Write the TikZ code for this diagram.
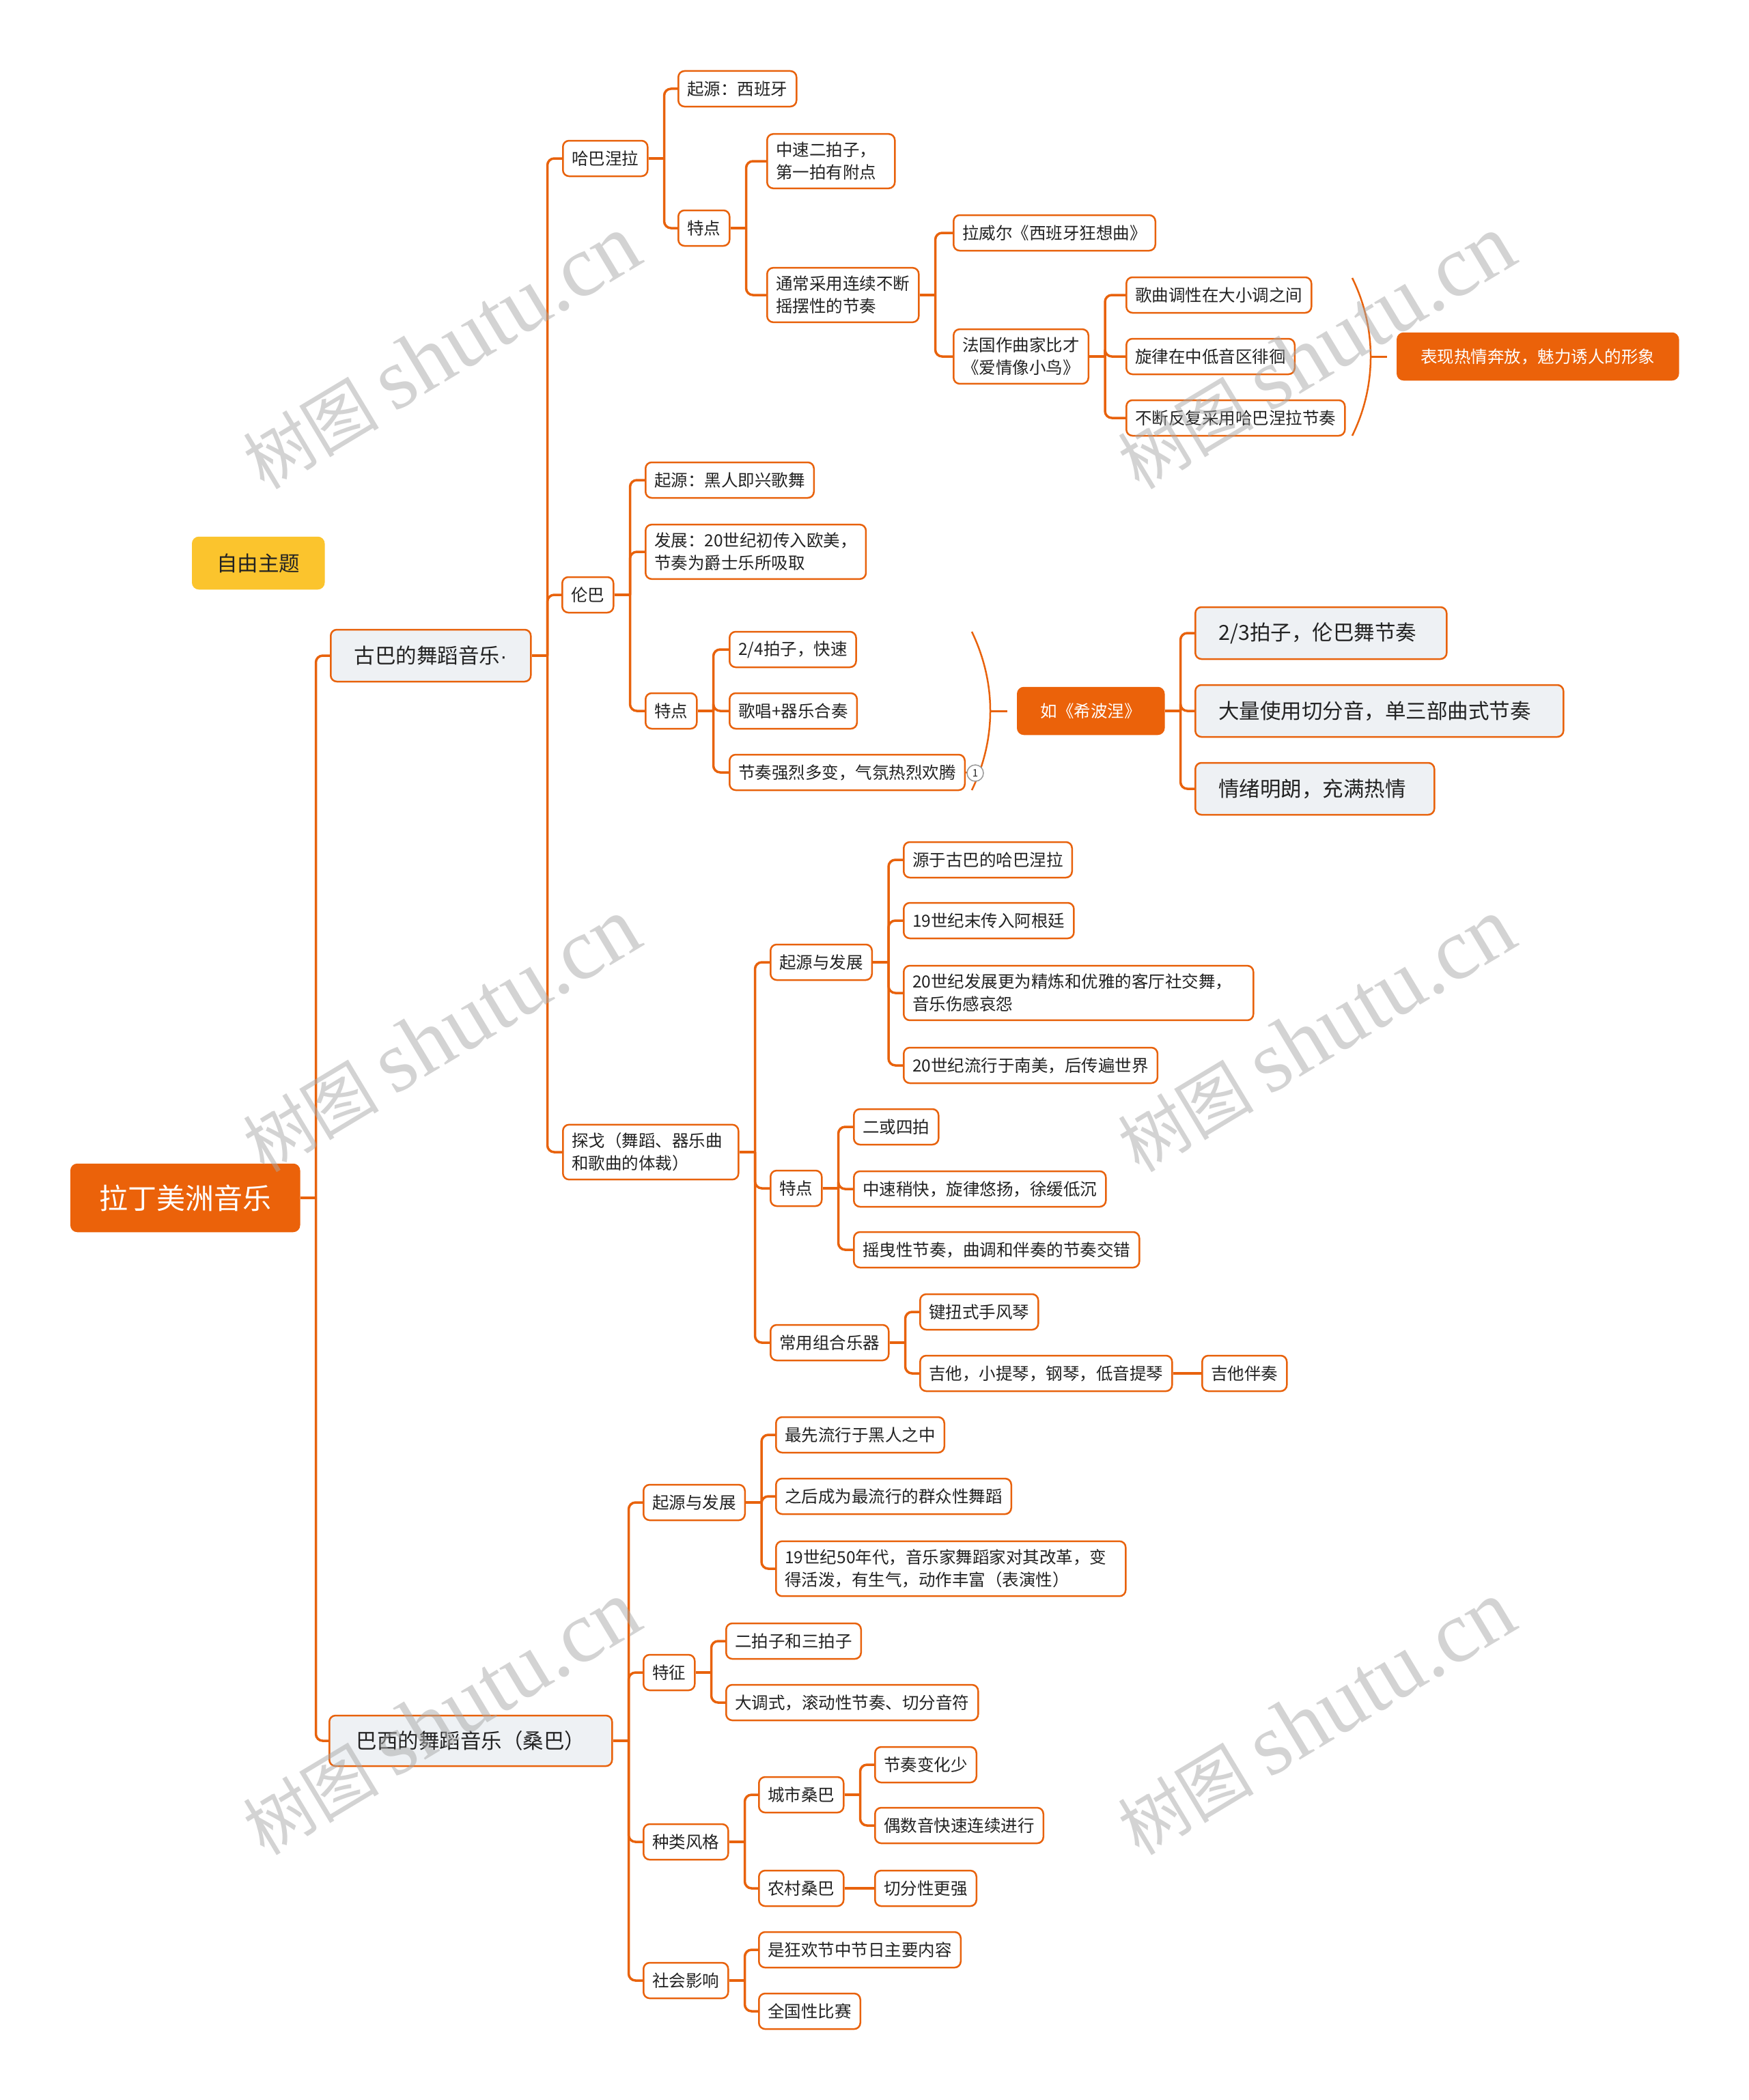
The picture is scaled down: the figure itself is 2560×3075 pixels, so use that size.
\documentclass[tikz,border=0pt]{standalone}
\usepackage{fontspec}
\setmainfont{Noto Sans CJK SC}
\newfontfamily\wmlatin{Liberation Serif}
\newfontfamily\latsans{Liberation Sans}
\usetikzlibrary{calc}
\definecolor{ora}{HTML}{E8620C}
\definecolor{orafill}{HTML}{EB620A}
\definecolor{grayfill}{HTML}{EEF1F4}
\definecolor{yel}{HTML}{FBC42D}
\definecolor{txt}{HTML}{222222}
\definecolor{wmgray}{HTML}{A8A8A8}
\newcommand\fsm{\fontsize{24.5pt}{33pt}\selectfont}
\newcommand\fmd{\fontsize{30.5pt}{38pt}\selectfont}
\newcommand\fbig{\fontsize{42pt}{50pt}\selectfont}
\newcommand\kids[2]{%
  \draw[conn,rounded corners=0pt] (#1.east) -- ++(23,0) coordinate (#1j);
  \foreach \c in {#2} {\draw[conn] (#1j) |- (\c.west);}
}
\tikzset{
  box/.style={draw=ora, line width=2.5pt, rounded corners=9pt, fill=white,
    inner xsep=13pt, inner ysep=12pt, minimum height=52pt, font=\fsm,
    text=txt, align=left, anchor=west},
  gbox/.style={box, fill=grayfill, font=\fmd, inner xsep=34pt, minimum height=76pt},
  obox/.style={box, fill=orafill, draw=orafill, text=white, align=center},
  conn/.style={draw=ora, line width=3.5pt, rounded corners=10pt},
  brace/.style={draw=ora, line width=2.5pt},
  markc/.style={circle, draw=gray!80, line width=1.5pt, fill=white, inner sep=0pt, minimum size=24pt, font=\fontsize{15pt}{15pt}\selectfont, text=txt},
  wm/.style={text=wmgray, opacity=0.5, font=\fontsize{100pt}{120pt}\selectfont, rotate=31, inner sep=0pt},
}
\begin{document}
\begin{tikzpicture}[x=1pt,y=-1pt]
\useasboundingbox (0,0) rectangle (2560,3075);
\fill[white] (0,0) rectangle (2560,3075);

% root and free topic
\node[obox, font=\fbig, minimum width=334pt, minimum height=98pt] (root) at (103,1754) {拉丁美洲音乐};
\node[box, draw=yel, fill=yel, font=\fmd, text=txt, minimum width=192pt, minimum height=75pt, align=center] (free) at (281,824.5) {自由主题};

% main branches
\node[gbox, minimum width=293pt] (cuba) at (483,960) {古巴的舞蹈音乐{\latsans ·}};
\node[gbox, minimum width=414pt, minimum height=74pt] (brazil) at (481,2549) {巴西的舞蹈音乐（桑巴）};

% Cuba level
\node[box] (haba) at (823,232) {哈巴涅拉};
\node[box] (rumba) at (822,871) {伦巴};
\node[box, text width=231pt] (tango) at (823,1687) {探戈（舞蹈、器乐曲\\和歌曲的体裁）};

% Habanera
\node[box] (h1) at (992,130) {起源：西班牙};
\node[box] (h2) at (992,334) {特点};
\node[box, text width=161pt] (h21) at (1122,236) {中速二拍子，\\第一拍有附点};
\node[box] (h22) at (1122,432) {通常采用连续不断\\摇摆性的节奏};
\node[box] (h221) at (1395,341) {拉威尔《西班牙狂想曲》};
\node[box, align=center] (h222) at (1395,522) {法国作曲家比才\\《爱情像小鸟》};
\node[box] (h2221) at (1648,432) {歌曲调性在大小调之间};
\node[box] (h2222) at (1648,522) {旋律在中低音区徘徊};
\node[box] (h2223) at (1648,612) {不断反复采用哈巴涅拉节奏};
\node[obox, minimum width=411pt, minimum height=68pt] (hsum) at (2045,522) {表现热情奔放，魅力诱人的形象};

% Rumba
\node[box] (r1) at (944,703) {起源：黑人即兴歌舞};
\node[box] (r2) at (944,808) {发展：20世纪初传入欧美，\\节奏为爵士乐所吸取};
\node[box] (r3) at (944,1041) {特点};
\node[box] (r31) at (1067,951) {2/4拍子，快速};
\node[box] (r32) at (1067,1041) {歌唱+器乐合奏};
\node[box] (r33) at (1067,1131) {节奏强烈多变，气氛热烈欢腾};
\coordinate (mark1) at (1428,1132);
\node[obox, minimum width=214pt, minimum height=68pt] (rsum) at (1489,1041) {如《希波涅》};
\node[gbox, text width=300pt] (rs1) at (1749,927) {2/3拍子，伦巴舞节奏};
\node[gbox, text width=471pt] (rs2) at (1749,1041) {大量使用切分音，单三部曲式节奏};
\node[gbox, text width=282pt] (rs3) at (1749,1155) {情绪明朗，充满热情};

% Tango
\node[box] (t1) at (1127,1409) {起源与发展};
\node[box] (t2) at (1127,1740) {特点};
\node[box] (t3) at (1127,1966) {常用组合乐器};
\node[box] (t11) at (1322,1259) {源于古巴的哈巴涅拉};
\node[box] (t12) at (1322,1348) {19世纪末传入阿根廷};
\node[box, text width=486pt] (t13) at (1322,1454) {20世纪发展更为精炼和优雅的客厅社交舞，\\音乐伤感哀怨};
\node[box] (t14) at (1322,1560) {20世纪流行于南美，后传遍世界};
\node[box] (t21) at (1249,1650) {二或四拍};
\node[box] (t22) at (1249,1741) {中速稍快，旋律悠扬，徐缓低沉};
\node[box] (t23) at (1249,1830) {摇曳性节奏，曲调和伴奏的节奏交错};
\node[box] (t31) at (1346,1921) {键扭式手风琴};
\node[box] (t32) at (1346,2011) {吉他，小提琴，钢琴，低音提琴};
\node[box] (t321) at (1759,2011) {吉他伴奏};

% Brazil
\node[box] (b1) at (941,2200) {起源与发展};
\node[box] (b2) at (941,2449) {特征};
\node[box] (b3) at (941,2697) {种类风格};
\node[box] (b4) at (941,2900) {社会影响};
\node[box] (b11) at (1135,2101) {最先流行于黑人之中};
\node[box] (b12) at (1135,2191) {之后成为最流行的群众性舞蹈};
\node[box, text width=486pt] (b13) at (1135,2297) {19世纪50年代，音乐家舞蹈家对其改革，变\\得活泼，有生气，动作丰富（表演性）};
\node[box] (b21) at (1062,2403) {二拍子和三拍子};
\node[box] (b22) at (1062,2493) {大调式，滚动性节奏、切分音符};
\node[box] (b31) at (1110,2628) {城市桑巴};
\node[box] (b32) at (1110,2765) {农村桑巴};
\node[box] (b311) at (1280,2584) {节奏变化少};
\node[box] (b312) at (1280,2673) {偶数音快速连续进行};
\node[box] (b321) at (1280,2765) {切分性更强};
\node[box] (b41) at (1110,2855) {是狂欢节中节日主要内容};
\node[box] (b42) at (1110,2945) {全国性比赛};

% connectors
\kids{root}{cuba,brazil}
\kids{cuba}{haba,rumba,tango}
\kids{haba}{h1,h2}
\kids{h2}{h21,h22}
\kids{h22}{h221,h222}
\kids{h222}{h2221,h2222,h2223}
\kids{rumba}{r1,r2,r3}
\kids{r3}{r31,r32,r33}
\kids{rsum}{rs1,rs2,rs3}
\kids{tango}{t1,t2,t3}
\kids{t1}{t11,t12,t13,t14}
\kids{t2}{t21,t22,t23}
\kids{t3}{t31,t32}
\kids{brazil}{b1,b2,b3,b4}
\kids{b1}{b11,b12,b13}
\kids{b2}{b21,b22}
\kids{b3}{b31,b32}
\kids{b31}{b311,b312}
\kids{b4}{b41,b42}
\draw[conn] (t32.east) -- (t321.west);
\draw[conn] (b32.east) -- (b321.west);

% summary braces
\coordinate (hbtop) at (1980,407);
\coordinate (hbbot) at (1980,638);
\coordinate (hbtip) at (2007,522);
\draw[brace] (hbtop) .. controls (2016,480) and (2016,565) .. (hbbot);
\draw[conn, line width=3pt] (hbtip) -- ([xshift=-14pt]hsum.west);

\coordinate (rbtop) at (1423,925);
\coordinate (rbbot) at (1423,1157);
\coordinate (rbtip) at (1450,1041);
\draw[brace] (rbtop) .. controls (1459,1000) and (1459,1082) .. (rbbot);
\draw[conn, line width=3pt] (rbtip) -- ([xshift=-14pt]rsum.west);
\draw[conn, line width=2.5pt] (r33.east) -- (mark1);
\node[markc] (mk) at (mark1) {1};

% watermarks
\foreach \wx in {646,1927} {
  \foreach \wy in {516,1516,2516} {
    \node[wm] at (\wx,\wy) {树图 {\wmlatin\fontsize{128pt}{130pt}\selectfont shutu.cn}};
  }
}
\end{tikzpicture}
\end{document}
